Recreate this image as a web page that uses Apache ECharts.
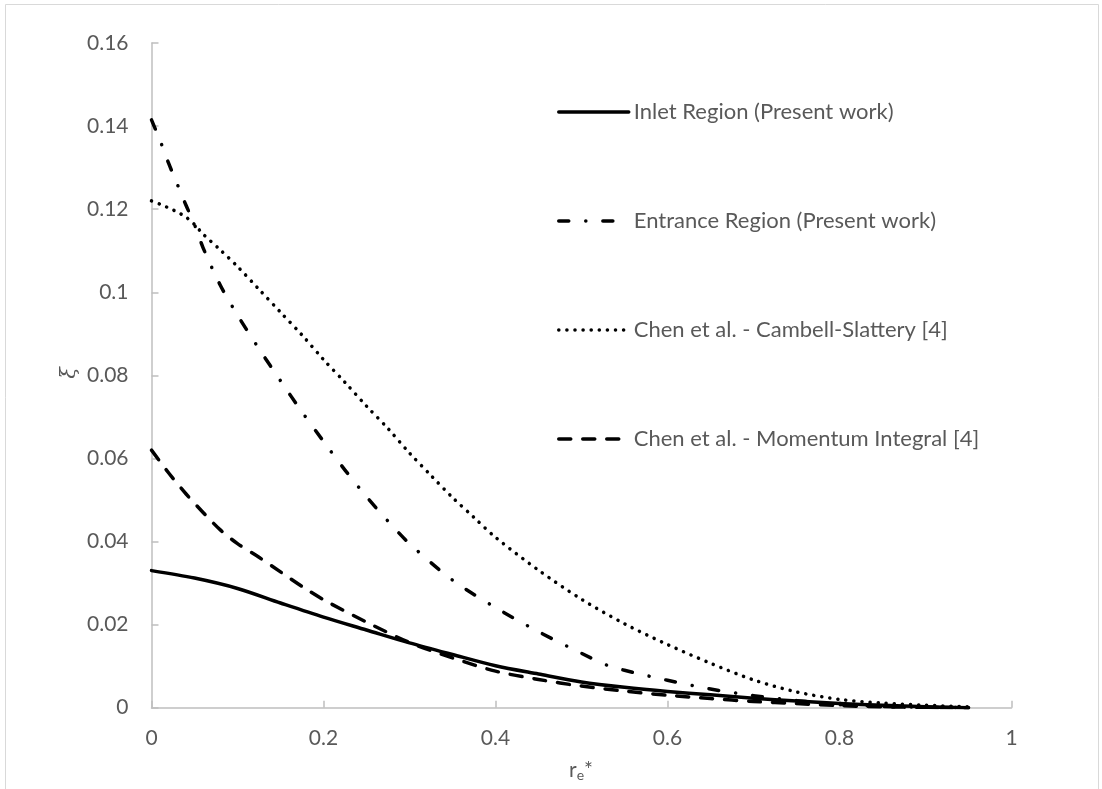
<!DOCTYPE html>
<html>
<head>
<meta charset="utf-8">
<script src="https://cdn.jsdelivr.net/npm/echarts@6/dist/echarts.min.js"></script>
<style>
  html, body { margin: 0; padding: 0; background: #ffffff; }
  #chart { width: 1102px; height: 789px; }
</style>
</head>
<body>
<div id="chart"></div>
<script>
// Axis ticks
const xTicks = [0, 0.2, 0.4, 0.6, 0.8, 1];
const yTicks = [0, 0.02, 0.04, 0.06, 0.08, 0.1, 0.12, 0.14, 0.16];

// Inlet Region (Present work)
const inletX = [0, 0.05, 0.1, 0.15, 0.2, 0.25, 0.3, 0.35, 0.4, 0.45, 0.5, 0.55, 0.6, 0.65, 0.7, 0.75, 0.8, 0.85, 0.9, 0.95];
const inletY = [0.033, 0.0312, 0.0287, 0.0252, 0.0218, 0.0187, 0.0156, 0.0128, 0.0101, 0.0081, 0.0062, 0.0049, 0.0039, 0.0031, 0.0023, 0.0016, 0.0010, 0.0006, 0.0002, 0.0];

// Entrance Region (Present work)
const entranceX = [0, 0.01, 0.02, 0.03, 0.04, 0.05, 0.06, 0.08, 0.1, 0.125, 0.15, 0.175, 0.2, 0.225, 0.25, 0.275, 0.3, 0.35, 0.4, 0.45, 0.5, 0.53, 0.55, 0.6, 0.65, 0.7, 0.75, 0.8, 0.85, 0.9, 0.95];
const entranceY = [0.1415, 0.1365, 0.131, 0.126, 0.121, 0.1163, 0.1107, 0.1017, 0.0945, 0.0864, 0.0787, 0.0712, 0.0641, 0.0572, 0.0508, 0.0449, 0.0395, 0.0307, 0.0241, 0.0183, 0.0131, 0.0102, 0.0090, 0.0066, 0.0045, 0.0029, 0.0017, 0.0008, 0.0003, 0.0001, 0.0];

// Chen et al. - Cambell-Slattery [4]
const cambellX = [0, 0.01, 0.02, 0.03, 0.04, 0.05, 0.06, 0.08, 0.1, 0.125, 0.15, 0.175, 0.2, 0.225, 0.25, 0.275, 0.3, 0.325, 0.35, 0.375, 0.4, 0.45, 0.5, 0.55, 0.6, 0.65, 0.7, 0.75, 0.8, 0.85, 0.9, 0.95];
const cambellY = [0.122, 0.1212, 0.1203, 0.1193, 0.1181, 0.1163, 0.114, 0.1102, 0.1062, 0.1007, 0.0952, 0.0897, 0.0838, 0.0783, 0.0726, 0.0672, 0.0613, 0.0559, 0.0506, 0.0458, 0.041, 0.0331, 0.0261, 0.0202, 0.0152, 0.0107, 0.0067, 0.0038, 0.0020, 0.0011, 0.0006, 0.0002];

// Chen et al. - Momentum Integral [4]
const momentumX = [0, 0.02, 0.04, 0.06, 0.08, 0.1, 0.125, 0.15, 0.175, 0.2, 0.25, 0.3, 0.35, 0.4, 0.45, 0.5, 0.55, 0.6, 0.65, 0.7, 0.75, 0.8, 0.85, 0.9, 0.95];
const momentumY = [0.062, 0.0565, 0.0515, 0.047, 0.0428, 0.0395, 0.0362, 0.0327, 0.0292, 0.026, 0.0206, 0.0157, 0.012, 0.0088, 0.0068, 0.0052, 0.004, 0.003, 0.0022, 0.0015, 0.001, 0.0005, 0.0002, 0.0001, 0.0];

const seriesNames = [
  'Inlet Region (Present work)',
  'Entrance Region (Present work)',
  'Chen et al. - Cambell-Slattery [4]',
  'Chen et al. - Momentum Integral [4]'
];

// Dash patterns for each curve
const dashTypes = ['solid', [10, 17, 0.1, 17], [0.1, 8], [12, 12]];

const zip = (xs, ys) => xs.map((x, i) => [x, ys[i]]);

const FONT = 'Lato';
const TEXT = '#595959';
const AXIS = '#BFBFBF';

function lineStyleFor(type) {
  return { color: '#000000', width: 3.5, type: type, cap: 'round', join: 'round' };
}

function lineSeries(name, data, type) {
  return {
    name: name,
    type: 'line',
    data: data,
    smooth: 0.3,
    symbol: 'none',
    showSymbol: false,
    lineStyle: lineStyleFor(type),
    itemStyle: { color: '#000000' },
    emphasis: { disabled: true }
  };
}

const chart = echarts.init(document.getElementById('chart'), null, { renderer: 'canvas' });

chart.setOption({
  animation: false,
  backgroundColor: '#ffffff',
  grid: { left: 151.5, right: 90.5, top: 43, bottom: 81.3, containLabel: false },
  xAxis: {
    type: 'value',
    min: xTicks[0],
    max: xTicks[xTicks.length - 1],
    interval: 0.2,
    axisLine: { show: true, lineStyle: { color: AXIS, width: 1.5 } },
    axisTick: { show: true, inside: true, length: 7, lineStyle: { color: AXIS, width: 1.5 } },
    splitLine: { show: false },
    axisLabel: { color: TEXT, fontFamily: FONT, fontSize: 21, margin: 20,
      formatter: v => String(+v.toFixed(2)) }
  },
  yAxis: {
    type: 'value',
    min: yTicks[0],
    max: yTicks[yTicks.length - 1],
    interval: 0.02,
    axisLine: { show: true, lineStyle: { color: AXIS, width: 1.5 } },
    axisTick: { show: true, inside: true, length: 7, lineStyle: { color: AXIS, width: 1.5 } },
    splitLine: { show: false },
    axisLabel: { color: TEXT, fontFamily: FONT, fontSize: 21, margin: 23,
      formatter: v => String(+v.toFixed(2)) }
  },
  legend: {
    orient: 'vertical',
    left: 552,
    top: 96,
    itemWidth: 70,
    itemHeight: 20,
    itemGap: 87,
    selectedMode: false,
    itemStyle: { opacity: 0 },
    textStyle: { color: TEXT, fontFamily: FONT, fontSize: 22, lineHeight: 20 },
    data: seriesNames.map((n, i) => ({
      name: n,
      itemStyle: { opacity: 0 },
      lineStyle: lineStyleFor(dashTypes[i])
    }))
  },
  series: seriesNames.map((n, i) =>
    lineSeries(n, zip([inletX, entranceX, cambellX, momentumX][i], [inletY, entranceY, cambellY, momentumY][i]), dashTypes[i])
  ),
  graphic: [
    {
      type: 'rect',
      silent: true,
      shape: { x: 5.5, y: 4.5, width: 1093, height: 800 },
      style: { fill: 'none', stroke: '#D9D9D9', lineWidth: 1 }
    },
    {
      type: 'text',
      silent: true,
      x: 581, y: 770,
      style: {
        text: '{a|r}{b|e}{a|*}',
        align: 'center',
        verticalAlign: 'middle',
        rich: {
          a: { fontFamily: FONT, fontSize: 21, fill: TEXT, color: TEXT },
          b: { fontFamily: FONT, fontSize: 14, fill: TEXT, color: TEXT, padding: [10, 0, 0, 0] }
        }
      }
    },
    {
      type: 'text',
      silent: true,
      x: 70, y: 373,
      rotation: Math.PI / 2,
      style: {
        text: 'ξ',
        align: 'center',
        verticalAlign: 'middle',
        fontFamily: 'DejaVu Serif',
        fontStyle: 'italic',
        fontSize: 21,
        fill: TEXT
      }
    }
  ]
});
</script>
</body>
</html>
